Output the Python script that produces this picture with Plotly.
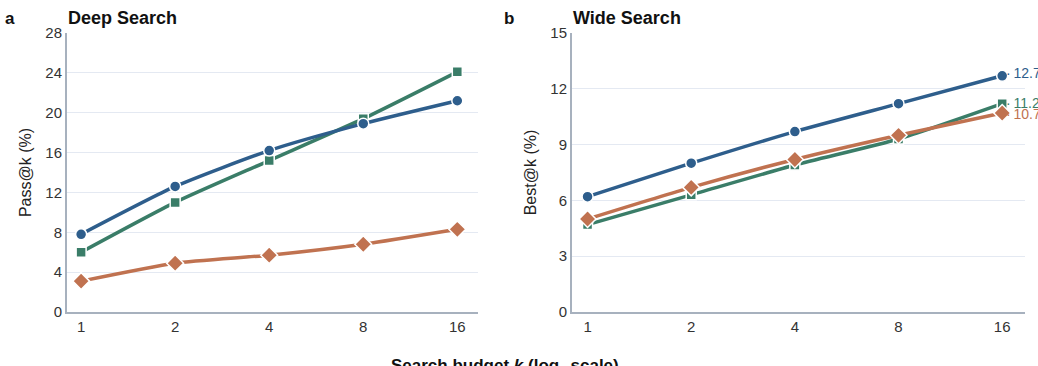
import math
import plotly.graph_objects as go

budgets = [1, 2, 4, 8, 16]
tick_labels = ["1", "2", "4", "8", "16"]

deep_blue = [7.8, 12.6, 16.2, 18.9, 21.2]
deep_green = [6.0, 11.0, 15.2, 19.4, 24.1]
deep_orange = [3.1, 4.9, 5.7, 6.8, 8.3]

wide_blue = [6.2, 8.0, 9.7, 11.2, 12.7]
wide_green = [4.7, 6.3, 7.9, 9.3, 11.2]
wide_orange = [5.0, 6.7, 8.2, 9.5, 10.7]

BLUE = "#2E5E8C"
GREEN = "#3A7D68"
ORANGE = "#C07250"
FONT = "Liberation Sans, Arial, sans-serif"

W, H = 1038, 366


def px(x):
    return x / W


def py(y):
    return 1 - y / H


fig = go.Figure()

series = [
    ("x", "y", deep_blue, BLUE, "circle", 11),
    ("x", "y", deep_green, GREEN, "square", 10),
    ("x", "y", deep_orange, ORANGE, "diamond", 13),
    ("x2", "y2", wide_blue, BLUE, "circle", 11),
    ("x2", "y2", wide_green, GREEN, "square", 10),
    ("x2", "y2", wide_orange, ORANGE, "diamond", 13),
]
order = [1, 0, 2, 4, 5, 3]
for i in order:
    xa, ya, vals, col, sym, sz = series[i]
    fig.add_trace(go.Scatter(
        x=budgets, y=vals, xaxis=xa, yaxis=ya, mode="lines+markers",
        line=dict(color=col, width=3.5, shape="spline", smoothing=0.6),
        marker=dict(symbol=sym, size=sz, color=col, line=dict(color="white", width=1.5)),
        showlegend=False, cliponaxis=False,
    ))

xr = [math.log10(2 ** -0.15), math.log10(2 ** 4.22)]
axis_common = dict(
    showline=True, linecolor="#A7B1BE", linewidth=2, automargin=False,
    ticks="", tickfont=dict(family=FONT, size=15, color="#333333"),
)
fig.update_layout(
    width=W, height=H,
    margin=dict(l=0, r=0, t=0, b=0, pad=0),
    paper_bgcolor="white", plot_bgcolor="white",
    font=dict(family=FONT, color="#222222"),
    xaxis=dict(domain=[px(67), px(478)], type="log", range=xr,
               tickvals=budgets, ticktext=tick_labels, showgrid=False,
               zeroline=False, anchor="y", **axis_common),
    yaxis=dict(domain=[py(312), py(33)], range=[0, 28], tickvals=[0, 4, 8, 12, 16, 20, 24, 28],
               showgrid=True, gridcolor="#E4E9F2", gridwidth=1, zeroline=False,
               anchor="x",
               title=dict(text="Pass@k (%)", font=dict(family=FONT, size=16, color="#222222"), standoff=10),
               **axis_common),
    xaxis2=dict(domain=[px(572), px(1025)], type="log", range=xr,
                tickvals=budgets, ticktext=tick_labels, showgrid=False,
                zeroline=False, anchor="y2", **axis_common),
    yaxis2=dict(domain=[py(312), py(33)], range=[0, 15], tickvals=[0, 3, 6, 9, 12, 15],
                showgrid=True, gridcolor="#E4E9F2", gridwidth=1, zeroline=False,
                anchor="x2",
                title=dict(text="Best@k (%)", font=dict(family=FONT, size=16, color="#222222"), standoff=10),
                **axis_common),
)

anns = [
    dict(text="<b>a</b>", x=px(3), y=py(18), xanchor="left", yanchor="middle", size=17, color="#111111"),
    dict(text="<b>Deep Search</b>", x=px(66), y=py(18), xanchor="left", yanchor="middle", size=18, color="#111111"),
    dict(text="<b>b</b>", x=px(502), y=py(18), xanchor="left", yanchor="middle", size=17, color="#111111"),
    dict(text="<b>Wide Search</b>", x=px(571), y=py(18), xanchor="left", yanchor="middle", size=18, color="#111111"),
    dict(text="<b>Search budget <i>k</i> (log<sub>2</sub> scale)</b>", x=px(505), y=py(354),
         xanchor="center", yanchor="top", size=17, color="#111111"),
]
for a in anns:
    fig.add_annotation(text=a["text"], x=a["x"], y=a["y"], xref="paper", yref="paper",
                       xanchor=a["xanchor"], yanchor=a["yanchor"], showarrow=False,
                       font=dict(family=FONT, size=a["size"], color=a["color"]))

end_labels = [(wide_blue[-1], BLUE, 3), (wide_green[-1], GREEN, 1), (wide_orange[-1], ORANGE, -1)]
for val, col, dy in end_labels:
    fig.add_annotation(text="·\u2009" + f"{val:.1f}", x=math.log10(budgets[-1]), y=val, xref="x2", yref="y2",
                       xanchor="left", yanchor="middle", xshift=2, yshift=dy, showarrow=False,
                       font=dict(family=FONT, size=14, color=col))

fig.write_html("out.html", config={"displayModeBar": False},
               post_script="document.body.style.margin='0';")
